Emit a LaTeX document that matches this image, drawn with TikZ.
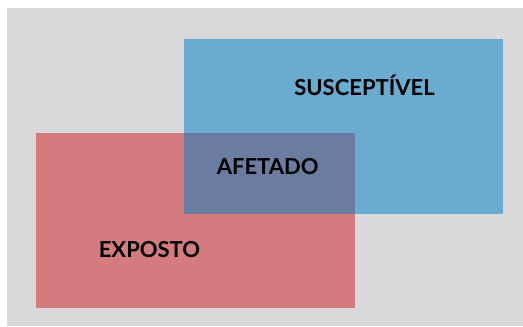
\documentclass[tikz,border=0pt]{standalone}
\usepackage{xcolor}
\usepackage{fontspec}
\setmainfont{Lato}
\usepackage{tikz}
\definecolor{fundo}{RGB}{217,217,219}
\definecolor{azul}{RGB}{106,171,207}
\definecolor{vermelho}{RGB}{212,123,125}
\definecolor{roxo}{RGB}{106,124,160}
\tikzset{rotulo/.style={anchor=base,font=\fontsize{16.5}{18}\selectfont\bfseries,text=black,inner sep=0pt}}

\begin{document}
\begin{tikzpicture}[x=0.75pt,y=-0.75pt]
      \useasboundingbox (0,0) rectangle (523,326);
      \fill[fundo] (7,8) rectangle (523,326);
      \begin{scope}
        \fill[azul] (184,39) rectangle (503,214);
        \fill[vermelho] (36,133) rectangle (355,308);
        \fill[roxo] (184,133) rectangle (355,214);
      \end{scope}
      \node[rotulo] (suscetivel) at (364.5,95.7) {SUSCEPTÍVEL};
      \node[rotulo] (afetado) at (267.7,174.3) {AFETADO};
      \node[rotulo] (exposto) at (149.5,257.3) {EXPOSTO};
    \end{tikzpicture}
\end{document}
